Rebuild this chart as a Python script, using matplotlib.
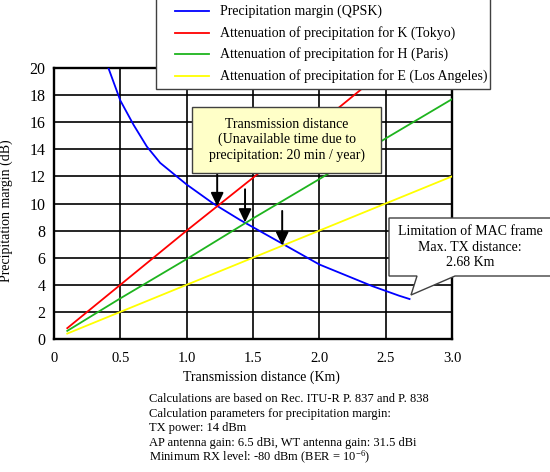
import matplotlib
matplotlib.use('Agg')
import matplotlib.pyplot as plt
from matplotlib.lines import Line2D
from matplotlib.patches import Rectangle, Polygon

plt.rcParams['font.family'] = ['Liberation Serif', 'DejaVu Serif']
plt.rcParams['mathtext.fontset'] = 'custom'
plt.rcParams['mathtext.rm'] = 'Liberation Serif'

# data
margin_x = [0.41, 0.5, 0.6, 0.7, 0.8, 0.9, 1.0, 1.2, 1.4, 1.6, 1.8, 2.0, 2.2, 2.4, 2.6, 2.68]
margin_y = [20.0, 17.6, 15.8, 14.2, 13.0, 12.2, 11.4, 10.0, 8.8, 7.7, 6.6, 5.5, 4.7, 3.9, 3.2, 2.95]

att_x = [0.1, 0.5, 1.0, 1.5, 2.0, 2.5, 3.0]
tokyo_y = [0.8, 4.0, 8.0, 11.9, 15.9, 19.9, 23.9]
paris_y = [0.6, 3.0, 5.9, 8.9, 11.8, 14.8, 17.7]
la_y = [0.4, 2.0, 4.0, 6.0, 8.0, 10.0, 12.0]

arrow_x = [1.23, 1.44, 1.72]
arrow_tip = [9.8, 8.6, 6.9]
arrow_tail = [12.25, 11.05, 9.45]

x_ticks = [0, 0.5, 1.0, 1.5, 2.0, 2.5, 3.0]
x_labels = ['0', '0.5', '1.0', '1.5', '2.0', '2.5', '3.0']
y_ticks = list(range(0, 21, 2))

legend_labels = ['Precipitation margin (QPSK)',
                 'Attenuation of precipitation for K (Tokyo)',
                 'Attenuation of precipitation for H (Paris)',
                 'Attenuation of precipitation for E (Los Angeles)']
colors = ['#0000FF', '#FF0000', '#1EB41E', '#FFFF00']

W, H = 550, 472


def fx(x):
    return x / W


def fy(y):
    return 1 - y / H


fig = plt.figure(figsize=(5.5, 4.72), dpi=100)
ax = fig.add_axes([fx(54), fy(339), (452 - 54) / W, (339 - 68) / H])

ax.plot(margin_x, margin_y, color=colors[0], lw=1.3, zorder=3)
ax.plot(att_x, tokyo_y, color=colors[1], lw=1.3, zorder=3)
ax.plot(att_x, paris_y, color=colors[2], lw=1.3, zorder=3)
ax.plot(att_x, la_y, color=colors[3], lw=1.3, zorder=3)

ax.set_xlim(0, 3.0)
ax.set_ylim(0, 20)
ax.set_xticks(x_ticks)
ax.set_xticklabels(x_labels)
ax.set_yticks(y_ticks)
ax.tick_params(axis='x', length=0, labelsize=10.5, pad=9)
ax.tick_params(axis='y', length=0, labelsize=11.5, pad=6)
ax.grid(True, color='black', lw=1.2)
ax.set_axisbelow(True)
for sp in ax.spines.values():
    sp.set_linewidth(1.7)

ax.set_xlabel('Transmission distance (Km)', fontsize=10)
ax.xaxis.set_label_coords(0.521, -0.115)
ax.set_ylabel('Precipitation margin (dB)', fontsize=10)
ax.yaxis.set_label_coords(-0.102, 0.472)

# arrows to the crossing points
for x, tip, tail in zip(arrow_x, arrow_tip, arrow_tail):
    ax.annotate('', xy=(x, tip), xytext=(x, tail),
                arrowprops=dict(arrowstyle='-|>,head_length=0.8,head_width=0.38',
                                color='black', lw=1.4, shrinkA=0, shrinkB=0),
                zorder=5)

# yellow note box
fig.patches.append(Rectangle((fx(192), fy(173)), (381 - 192) / W, (173 - 107) / H,
                             transform=fig.transFigure, facecolor='#FFFFC8',
                             edgecolor='#404040', lw=1.0, zorder=6))
fig.text(fx(287), fy(140), 'Transmission distance\n(Unavailable time due to\nprecipitation: 20 min / year)',
         ha='center', va='center', fontsize=10, linespacing=1.2, zorder=7)

# MAC frame callout
callout = [(389, 218), (552, 218), (552, 276), (455, 276), (411, 295), (417, 276), (389, 276)]
fig.patches.append(Polygon([(fx(a), fy(b)) for a, b in callout], closed=True,
                           transform=fig.transFigure, facecolor='white',
                           edgecolor='#404040', lw=1.0, zorder=6))
fig.text(fx(470), fy(247), 'Limitation of MAC frame\nMax. TX distance:\n2.68 Km',
         ha='center', va='center', fontsize=10, linespacing=1.25, zorder=7)

# legend box drawn by hand to match the layout
fig.patches.append(Rectangle((fx(156), fy(89)), (490 - 156) / W, 92 / H,
                             transform=fig.transFigure, facecolor='white',
                             edgecolor='#404040', lw=1.0, zorder=8))
row_y = [11, 33, 54, 76]
for c, lab, ry in zip(colors, legend_labels, row_y):
    fig.add_artist(Line2D([fx(175), fx(209)], [fy(ry), fy(ry)], color=c, lw=1.3,
                          transform=fig.transFigure, zorder=9))
    fig.text(fx(220), fy(ry), lab, ha='left', va='center', fontsize=10, zorder=9)

# notes under the chart
notes = ['Calculations are based on Rec. ITU-R P. 837 and P. 838',
         'Calculation parameters for precipitation margin:',
         'TX power: 14 dBm',
         'AP antenna gain: 6.5 dBi, WT antenna gain: 31.5 dBi',
         r'Minimum RX level: -80 dBm (BER = $\mathrm{10^{-6}}$)']
baselines = [402, 417, 431, 446, 461]
for line, b in zip(notes, baselines):
    fig.text(fx(149), fy(b), line, ha='left', va='baseline', fontsize=9.0)

plt.savefig('out.png', dpi=100, facecolor='white')
